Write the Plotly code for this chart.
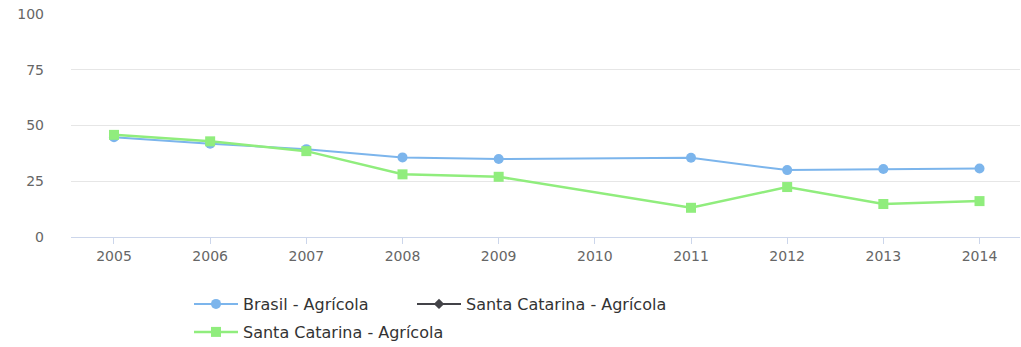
import plotly.graph_objects as go

# Série histórica (%), anos sem dado ficam como None
anos = ["2005", "2006", "2007", "2008", "2009", "2010", "2011", "2012", "2013", "2014"]
brasil_agricola = [44.7, 41.8, 39.4, 35.7, 35.0, None, 35.5, 30.0, 30.5, 30.7]
sc_agricola_linha = [None] * 10
sc_agricola = [45.8, 42.9, 38.5, 28.1, 27.0, None, 13.1, 22.4, 14.8, 16.1]
y_ticks = [0, 25, 50, 75, 100]

FONT = "DejaVu Sans"
W, H = 1021, 347

fig = go.Figure()
fig.add_trace(go.Scatter(
    x=anos, y=brasil_agricola, name="Brasil - Agrícola", mode="lines+markers",
    connectgaps=True, line=dict(color="#7cb5ec", width=2),
    marker=dict(symbol="circle", size=10, color="#7cb5ec"),
    legend="legend", showlegend=True))
fig.add_trace(go.Scatter(
    x=anos, y=sc_agricola_linha, name="Santa Catarina - Agrícola", mode="lines+markers",
    line=dict(color="#434348", width=2),
    marker=dict(symbol="diamond", size=8, color="#434348"),
    legend="legend2", showlegend=True))
fig.add_trace(go.Scatter(
    x=anos, y=sc_agricola, name="Santa Catarina - Agrícola", mode="lines+markers",
    connectgaps=True, line=dict(color="#90ed7d", width=2.5),
    marker=dict(symbol="square", size=10, color="#90ed7d"),
    legend="legend3", showlegend=True))

legend_style = dict(orientation="h", xref="container", yref="container",
                    xanchor="left", yanchor="middle", bgcolor="rgba(0,0,0,0)",
                    itemwidth=44,
                    font=dict(family=FONT, size=16, color="#333333"))

fig.update_layout(
    width=W, height=H, showlegend=True,
    margin=dict(l=71, r=1, t=14, b=110),
    paper_bgcolor="white", plot_bgcolor="white",
    font=dict(family=FONT, color="#666666"),
    legend=dict(x=189 / W, y=1 - 304 / H, **legend_style),
    legend2=dict(x=412 / W, y=1 - 304 / H, **legend_style),
    legend3=dict(x=189 / W, y=1 - 332 / H, **legend_style),
    xaxis=dict(
        type="category", range=[-0.447, 9.421],
        showgrid=False, showline=True, linecolor="#ccd6eb", linewidth=1,
        ticks="outside", ticklen=6, tickcolor="#ccd6eb",
        tickfont=dict(family=FONT, size=14, color="#666666"),
        fixedrange=True, zeroline=False),
    yaxis=dict(
        range=[0, 100], tickvals=y_ticks, ticktext=[str(v) for v in y_ticks],
        showgrid=True, gridcolor="#e6e6e6", gridwidth=1,
        zeroline=False, showline=False, ticks="",
        ticklabelstandoff=26,
        tickfont=dict(family=FONT, size=14, color="#666666")),
)

fig.write_html("out.html")
